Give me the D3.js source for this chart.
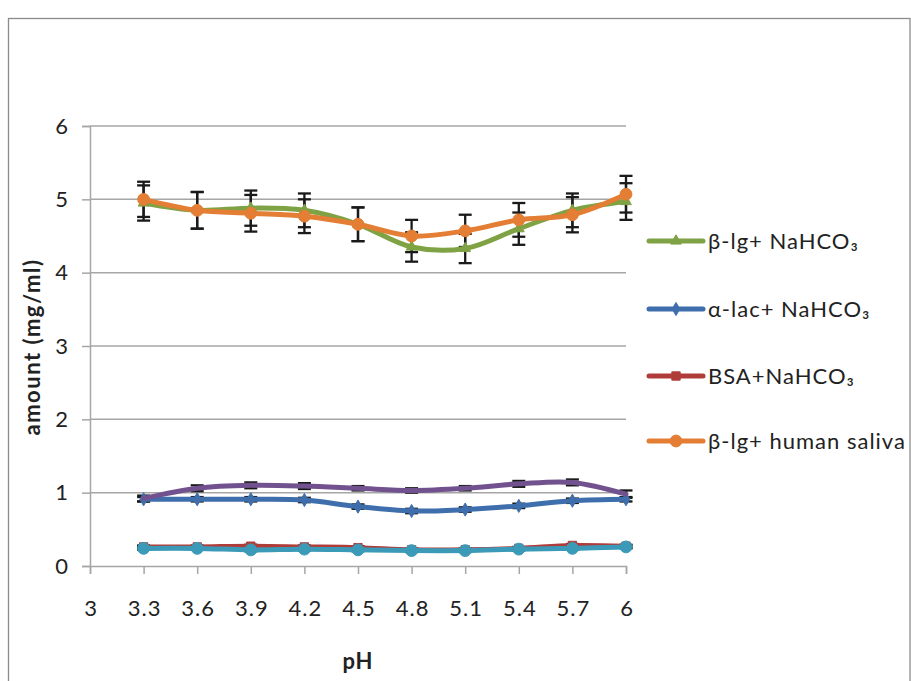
<!DOCTYPE html>
<html>
<head>
<meta charset="utf-8">
<script src="https://cdn.jsdelivr.net/npm/d3@7"></script>
<style>
  html, body { margin: 0; padding: 0; background: #fff; }
  svg { display: block; font-family: Lato, "Open Sans", sans-serif; }
  svg text { letter-spacing: 1px; }
</style>
</head>
<body>
<svg id="chart" width="911" height="681"></svg>
<script>
// pH values measured
const phValues = [3.3, 3.6, 3.9, 4.2, 4.5, 4.8, 5.1, 5.4, 5.7, 6.0];
const xTicks = [3, 3.3, 3.6, 3.9, 4.2, 4.5, 4.8, 5.1, 5.4, 5.7, 6];
const yTicks = [0, 1, 2, 3, 4, 5, 6];

// amount (mg/ml) per series and its error
const betaLgNaHCO3 = [4.95, 4.85, 4.88, 4.85, 4.66, 4.35, 4.33, 4.60, 4.85, 4.97];
const betaLgNaHCO3Err = [0.24, 0.25, 0.24, 0.23, 0.23, 0.20, 0.20, 0.22, 0.23, 0.25];
const alphaLacNaHCO3 = [0.91, 0.91, 0.91, 0.90, 0.81, 0.75, 0.77, 0.82, 0.89, 0.91];
const alphaLacNaHCO3Err = [0.03, 0.03, 0.03, 0.03, 0.03, 0.03, 0.03, 0.03, 0.03, 0.03];
const bsaNaHCO3 = [0.26, 0.26, 0.27, 0.26, 0.25, 0.22, 0.22, 0.24, 0.28, 0.27];
const bsaNaHCO3Err = [0.02, 0.02, 0.02, 0.02, 0.02, 0.02, 0.02, 0.02, 0.02, 0.02];
const betaLgSaliva = [5.00, 4.85, 4.81, 4.77, 4.66, 4.50, 4.57, 4.72, 4.79, 5.07];
const betaLgSalivaErr = [0.24, 0.25, 0.25, 0.23, 0.23, 0.22, 0.22, 0.23, 0.24, 0.25];
const alphaLacSaliva = [0.92, 1.06, 1.10, 1.09, 1.06, 1.03, 1.06, 1.12, 1.14, 0.98];
const alphaLacSalivaErr = [0.04, 0.04, 0.04, 0.04, 0.03, 0.03, 0.03, 0.04, 0.04, 0.05];
const bsaSaliva = [0.24, 0.24, 0.22, 0.23, 0.22, 0.21, 0.21, 0.23, 0.24, 0.26];
const bsaSalivaErr = [0.02, 0.02, 0.02, 0.02, 0.02, 0.02, 0.02, 0.02, 0.02, 0.02];

const seriesNames = ["β-lg+ NaHCO₃", "α-lac+ NaHCO₃", "BSA+NaHCO₃", "β-lg+ human saliva", "", ""];
const seriesColors = ["#7FA244", "#3F6EAC", "#B03C39", "#E37E34", "#71528F", "#3B9AB7"];
const seriesMarkers = ["triangle", "diamond", "square", "circle", "none", "circle"];

const series = [
  { vals: betaLgNaHCO3, err: betaLgNaHCO3Err },
  { vals: alphaLacNaHCO3, err: alphaLacNaHCO3Err },
  { vals: bsaNaHCO3, err: bsaNaHCO3Err },
  { vals: betaLgSaliva, err: betaLgSalivaErr },
  { vals: alphaLacSaliva, err: alphaLacSalivaErr },
  { vals: bsaSaliva, err: bsaSalivaErr }
].map((s, i) => ({
  name: seriesNames[i], color: seriesColors[i], marker: seriesMarkers[i],
  points: phValues.map((p, j) => ({ x: p, y: s.vals[j], e: s.err[j] }))
}));

const svg = d3.select("#chart");
const gridColor = "#A6A6A6";
const textColor = "#222";
const fontSize = 22;

// outer frame
svg.append("rect").attr("x", 8.5).attr("y", 18.5).attr("width", 901.5).attr("height", 700)
  .attr("fill", "none").attr("stroke", "#8C8C8C").attr("stroke-width", 1.3);

const x = d3.scaleLinear().domain([3, 6]).range([90, 626]);
const y = d3.scaleLinear().domain([0, 6]).range([566, 126]);

// horizontal gridlines
svg.append("g").selectAll("line").data(yTicks.filter(d => d > 0)).join("line")
  .attr("x1", x(3)).attr("x2", x(6)).attr("y1", d => y(d)).attr("y2", d => y(d))
  .attr("stroke", gridColor).attr("stroke-width", 1.5);

// y axis
const yAxis = svg.append("g").attr("transform", `translate(${x(3)},0)`)
  .call(d3.axisLeft(y).tickValues(yTicks).tickSize(8).tickPadding(13).tickFormat(d3.format("d")));
yAxis.select(".domain").attr("stroke", gridColor).attr("stroke-width", 1.5);
yAxis.selectAll(".tick line").attr("stroke", gridColor).attr("stroke-width", 1.5);
yAxis.selectAll("text").attr("font-size", fontSize).attr("fill", textColor).attr("font-family", "Lato, sans-serif");

// x axis
const xAxis = svg.append("g").attr("transform", `translate(0,${y(0)})`)
  .call(d3.axisBottom(x).tickValues(xTicks).tickSize(8).tickPadding(26)
    .tickFormat(d => d3.format("~g")(+d.toFixed(1))));
xAxis.select(".domain").attr("stroke", gridColor).attr("stroke-width", 1.5);
xAxis.selectAll(".tick line").attr("stroke", gridColor).attr("stroke-width", 1.5);
xAxis.selectAll("text").attr("font-size", fontSize).attr("fill", textColor).attr("font-family", "Lato, sans-serif")
  .attr("dx", "0.5px");

// axis titles
svg.append("text").attr("x", 358).attr("y", 669).attr("text-anchor", "middle")
  .attr("font-size", fontSize).attr("font-weight", "bold").attr("fill", textColor).text("pH");
svg.append("text").attr("transform", "translate(40,347) rotate(-90)").attr("text-anchor", "middle")
  .attr("font-size", fontSize).attr("font-weight", "bold").attr("fill", textColor)
  .style("letter-spacing", "1.5px").text("amount (mg/ml)");

// error bars
const capW = 6.5;
const eb = svg.append("g").attr("stroke", "#1a1a1a").attr("stroke-width", 2.3);
series.forEach(s => {
  s.points.forEach(p => {
    const xp = x(p.x), y1 = y(p.y + p.e), y2 = y(p.y - p.e);
    eb.append("line").attr("x1", xp).attr("x2", xp).attr("y1", y1).attr("y2", y2);
    eb.append("line").attr("x1", xp - capW).attr("x2", xp + capW).attr("y1", y1).attr("y2", y1);
    eb.append("line").attr("x1", xp - capW).attr("x2", xp + capW).attr("y1", y2).attr("y2", y2);
  });
});

// smoothed series lines and markers
const line = d3.line().x(d => x(d.x)).y(d => y(d.y)).curve(d3.curveCatmullRom.alpha(0.5));
const symbolFor = { triangle: d3.symbolTriangle, diamond: d3.symbolDiamond, square: d3.symbolSquare, circle: d3.symbolCircle };
const sizeFor = { triangle: 50, diamond: 50, square: 70, circle: 110 };

function drawMarker(g, kind, cx, cy, color) {
  if (kind === "none") return;
  g.append("path").attr("d", d3.symbol().type(symbolFor[kind]).size(sizeFor[kind])())
    .attr("transform", `translate(${cx},${cy})`).attr("fill", color).attr("stroke", color).attr("stroke-width", 1);
}

series.forEach(s => {
  const g = svg.append("g");
  g.append("path").datum(s.points).attr("d", line).attr("fill", "none")
    .attr("stroke", s.color).attr("stroke-width", 5).attr("stroke-linejoin", "round").attr("stroke-linecap", "round");
  s.points.forEach(p => drawMarker(g, s.marker, x(p.x), y(p.y), s.color));
});

// legend (named series only)
const legend = svg.append("g");
const legendY = [241, 309, 376, 441];
series.filter(s => s.name).forEach((s, i) => {
  const ly = legendY[i];
  legend.append("line").attr("x1", 649).attr("x2", 703).attr("y1", ly).attr("y2", ly)
    .attr("stroke", s.color).attr("stroke-width", 5).attr("stroke-linecap", "round");
  drawMarker(legend, s.marker, 676, ly, s.color);
  legend.append("text").attr("x", 708).attr("y", ly + 8).attr("font-size", fontSize).attr("fill", textColor).text(s.name);
});
</script>
</body>
</html>
